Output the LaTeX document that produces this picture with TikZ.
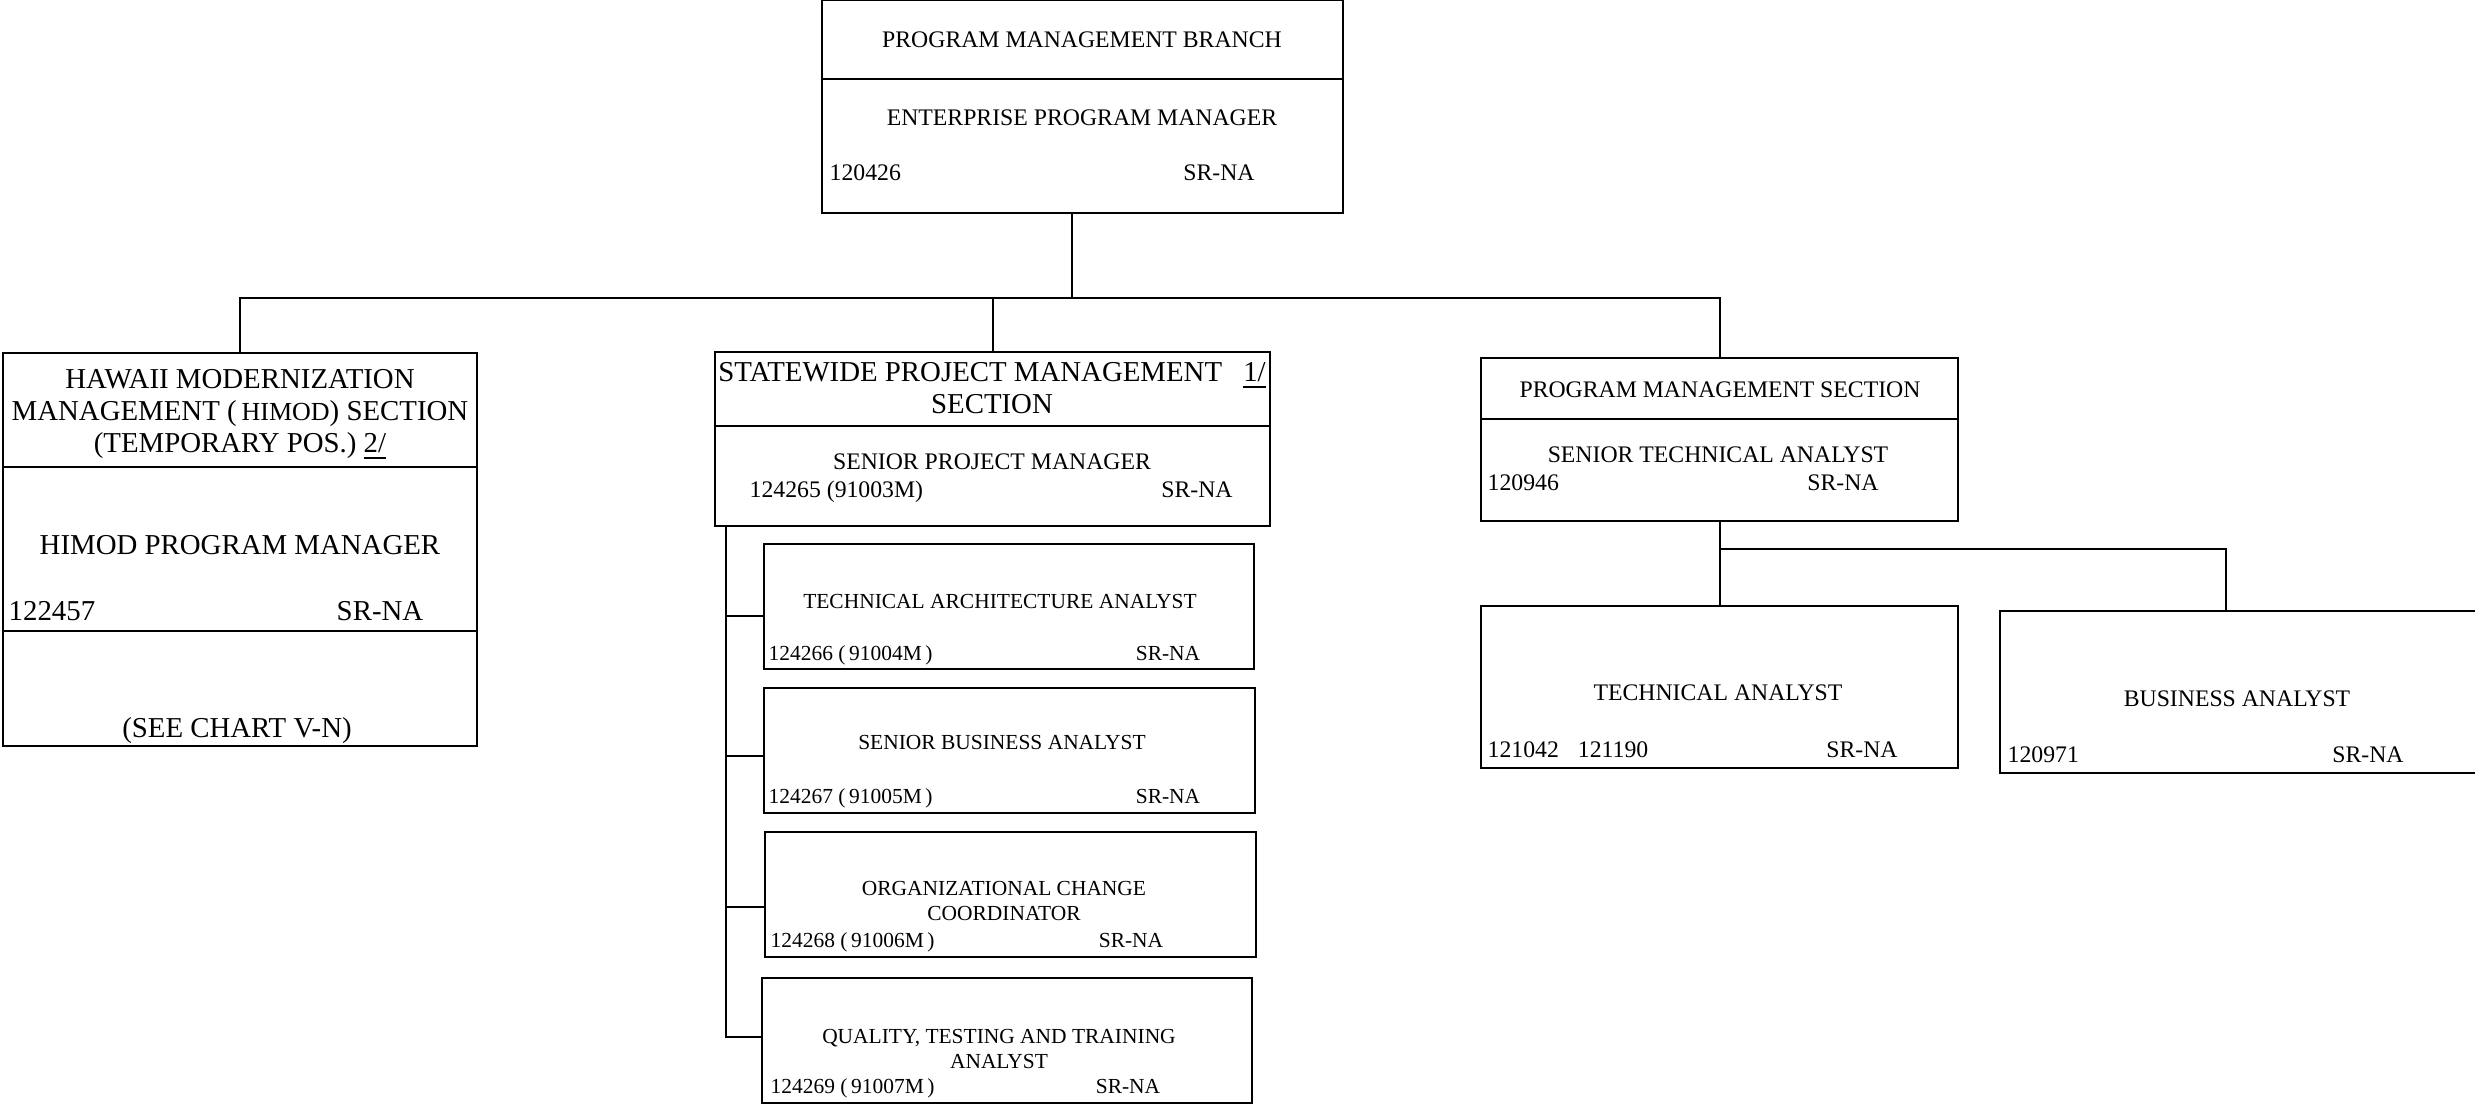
\documentclass[tikz,border=0pt]{standalone}
\usepackage{fontspec}
\setmainfont{Liberation Serif}
\usetikzlibrary{positioning}

\begin{document}
\begin{tikzpicture}[
    x=0.01cm, y=-0.01cm,
    box/.style={draw, line width=0.6pt, inner sep=0pt, outer sep=0pt, anchor=north west},
    big/.style={font=\fontsize{8.2}{9.1}\selectfont, align=center, inner sep=0pt},
    txt/.style={font=\fontsize{6.75}{7.6}\selectfont, align=center, inner sep=0pt},
    small/.style={font=\fontsize{6.1}{7.1}\selectfont, align=center, inner sep=0pt},
    link/.style={line width=0.6pt},
]
\useasboundingbox (0,0) rectangle (2475,1105);

% Branch
\node[box, minimum width=5.21cm, minimum height=0.79cm] (pmbHead) at (822,0) {};
\node[box, minimum width=5.21cm, minimum height=1.34cm, below=0pt of pmbHead] (pmbBody) {};
\node[txt, anchor=base] (pmbTitle) at (1082,47) {PROGRAM MANAGEMENT BRANCH};
\node[txt, anchor=base] (pmbPos) at (1082,125) {ENTERPRISE PROGRAM MANAGER};
\node[txt, anchor=base west] (pmbNum) at (829,180) {120426};
\node[txt, anchor=base] (pmbGrade) at (1219,180) {SR-NA};

% HIMOD section
\node[box, minimum width=4.74cm, minimum height=1.14cm] (himodHead) at (3,353) {};
\node[box, minimum width=4.74cm, minimum height=1.64cm, below=0pt of himodHead] (himodBody) {};
\node[box, minimum width=4.74cm, minimum height=1.15cm, below=0pt of himodBody] (himodNote) {};
\node[big, anchor=north] (himodTitle) at (240,369)
    {HAWAII MODERNIZATION\\MANAGEMENT (\,{\fontsize{7.4}{9.1}\selectfont HIMOD}) SECTION\\(TEMPORARY POS.) \underline{2/}};
\node[big, anchor=base] (himodPos) at (240,554) {HIMOD PROGRAM MANAGER};
\node[big, anchor=base west] (himodNum) at (8,620) {122457};
\node[big, anchor=base] (himodGrade) at (380,620) {SR-NA};
\node[big, anchor=base] (himodSee) at (237,737) {(SEE CHART V-N)};

% Statewide project management section
\node[box, minimum width=5.55cm, minimum height=0.74cm] (spmHead) at (715,352) {};
\node[box, minimum width=5.55cm, minimum height=1.00cm, below=0pt of spmHead] (spmBody) {};
\node[big, anchor=north] (spmTitle) at (992,362)
    {STATEWIDE PROJECT MANAGEMENT\hspace{6pt}\underline{1/}\\SECTION};
\node[txt, anchor=base] (spmPos) at (992,469) {SENIOR PROJECT MANAGER};
\node[txt, anchor=base west] (spmNum) at (749,497) {124265 (91003M)};
\node[txt, anchor=base] (spmGrade) at (1197,497) {SR-NA};

\node[box, minimum width=4.90cm, minimum height=1.25cm] (taa) at (764,544) {};
\node[small, anchor=base] (taaPos) at (1000,608) {TECHNICAL ARCHITECTURE ANALYST};
\node[small, anchor=base west] (taaNum) at (768,660) {124266 (\,91004M\,)};
\node[small, anchor=base] (taaGrade) at (1168,660) {SR-NA};

\node[box, minimum width=4.91cm, minimum height=1.25cm] (sba) at (764,688) {};
\node[small, anchor=base] (sbaPos) at (1002,749) {SENIOR BUSINESS ANALYST};
\node[small, anchor=base west] (sbaNum) at (768,803) {124267 (\,91005M\,)};
\node[small, anchor=base] (sbaGrade) at (1168,803) {SR-NA};

\node[box, minimum width=4.91cm, minimum height=1.25cm] (occ) at (765,832) {};
\node[small, anchor=north] (occPos) at (1004,881) {ORGANIZATIONAL CHANGE\\COORDINATOR};
\node[small, anchor=base west] (occNum) at (770,947) {124268 (\,91006M\,)};
\node[small, anchor=base] (occGrade) at (1131,947) {SR-NA};

\node[box, minimum width=4.90cm, minimum height=1.25cm] (qtt) at (762,978) {};
\node[small, anchor=north] (qttPos) at (999,1029) {QUALITY, TESTING AND TRAINING\\ANALYST};
\node[small, anchor=base west] (qttNum) at (770,1093) {124269 (\,91007M\,)};
\node[small, anchor=base] (qttGrade) at (1128,1093) {SR-NA};

% Program management section
\node[box, minimum width=4.77cm, minimum height=0.61cm] (pmsHead) at (1481,358) {};
\node[box, minimum width=4.77cm, minimum height=1.02cm, below=0pt of pmsHead] (pmsBody) {};
\node[txt, anchor=base] (pmsTitle) at (1720,397) {PROGRAM MANAGEMENT SECTION};
\node[txt, anchor=base] (pmsPos) at (1718,462) {SENIOR TECHNICAL ANALYST};
\node[txt, anchor=base west] (pmsNum) at (1487,490) {120946};
\node[txt, anchor=base] (pmsGrade) at (1843,490) {SR-NA};

\node[box, minimum width=4.77cm, minimum height=1.62cm] (ta) at (1481,606) {};
\node[txt, anchor=base] (taPos) at (1718,700) {TECHNICAL ANALYST};
\node[txt, anchor=base west] (taNum) at (1487,757) {121042\hspace{5.4pt}121190};
\node[txt, anchor=base] (taGrade) at (1862,757) {SR-NA};

\node[box, minimum width=4.80cm, minimum height=1.62cm] (ba) at (2000,611) {};
\node[txt, anchor=base] (baPos) at (2237,706) {BUSINESS ANALYST};
\node[txt, anchor=base west] (baNum) at (2007,762) {120971};
\node[txt, anchor=base] (baGrade) at (2368,762) {SR-NA};

% Connectors
\coordinate (bus) at (1072,298);
\coordinate (spmSpine) at ([xshift=0.11cm]spmBody.south west);
\coordinate (taaTap) at ([yshift=-0.095cm]taa.west);
\coordinate (sbaTap) at ([yshift=-0.055cm]sba.west);
\coordinate (occTap) at ([yshift=-0.125cm]occ.west);
\coordinate (qttTap) at ([yshift=0.035cm]qtt.west);
\coordinate (baTap) at (2226,549);

\draw[link] (pmbBody.south -| bus) -- (bus);
\draw[link] (himodHead.north) -- (himodHead.north |- bus) -- (pmsHead.north |- bus) -- (pmsHead.north);
\draw[link] (spmHead.north) -- (spmHead.north |- bus);

\draw[link] (spmSpine) |- (qttTap);
\draw[link] (spmSpine |- taaTap) -- (taaTap);
\draw[link] (spmSpine |- sbaTap) -- (sbaTap);
\draw[link] (spmSpine |- occTap) -- (occTap);

\draw[link] (pmsBody.south) -- (ta.north);
\draw[link] (ta.north |- baTap) -- (baTap) -- (baTap |- ba.north);

\end{tikzpicture}
\end{document}
